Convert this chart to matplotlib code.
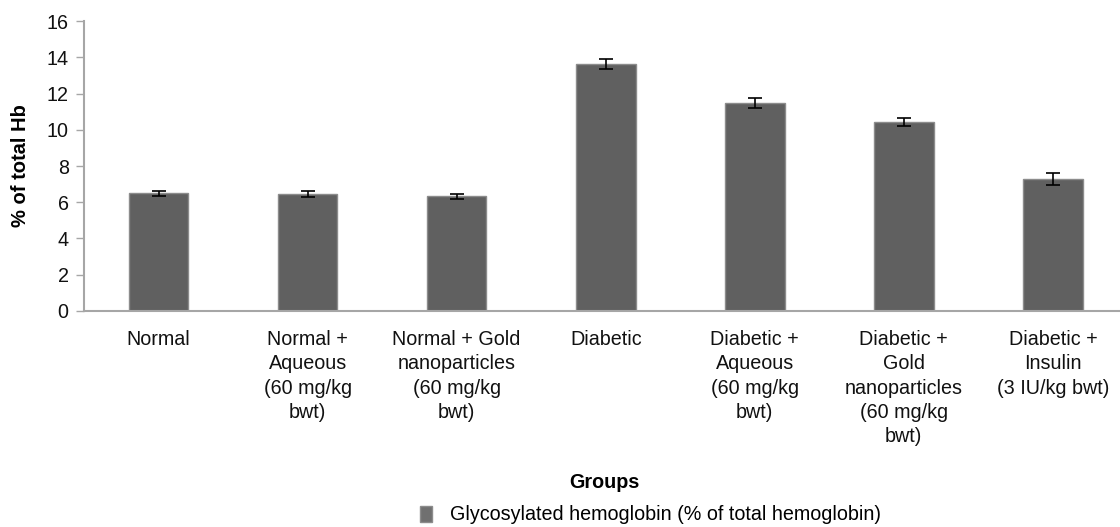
import matplotlib
matplotlib.use("Agg")
import matplotlib.pyplot as plt
from matplotlib.patches import Patch

plt.rcParams["font.family"] = ["Liberation Sans", "DejaVu Sans"]

groups = ["Normal",
          "Normal +\nAqueous\n(60 mg/kg\nbwt)",
          "Normal + Gold\nnanoparticles\n(60 mg/kg\nbwt)",
          "Diabetic",
          "Diabetic +\nAqueous\n(60 mg/kg\nbwt)",
          "Diabetic +\nGold\nnanoparticles\n(60 mg/kg\nbwt)",
          "Diabetic +\nInsulin\n(3 IU/kg bwt)"]
hba1c = [6.50, 6.45, 6.32, 13.62, 11.48, 10.43, 7.28]
hba1c_err = [0.14, 0.15, 0.14, 0.28, 0.30, 0.20, 0.33]
yticks = [0, 2, 4, 6, 8, 10, 12, 14, 16]
series_name = "Glycosylated hemoglobin (% of total hemoglobin)"

bar_col = "#606060"
axis_col = "#a6a6a6"
fs = 14.2

fig = plt.figure(figsize=(11.2, 5.27), dpi=100)
ax = fig.add_axes([0.075, 0.41, 0.925, 0.55])

x = list(range(len(groups)))
ax.bar(x, hba1c, width=0.4, color=bar_col, edgecolor="#8c8c8c", linewidth=1.0,
       yerr=hba1c_err, error_kw=dict(ecolor="black", elinewidth=1.2, capsize=5, capthick=1.2))

ax.set_xlim(-0.5, 6.45)
ax.set_ylim(0, 16)
ax.set_yticks(yticks)
ax.set_yticklabels([str(t) for t in yticks], fontsize=fs, color="#111111")
ax.set_xticks(x)
ax.set_xticklabels(groups, fontsize=fs, linespacing=1.34, va="top", color="#111111")
ax.tick_params(axis="x", length=0, pad=14)
ax.tick_params(axis="y", length=6, width=1, color=axis_col, pad=5)

for s in ["top", "right"]:
    ax.spines[s].set_visible(False)
for s in ["left", "bottom"]:
    ax.spines[s].set_color(axis_col)
    ax.spines[s].set_linewidth(1.5)

ax.set_ylabel("% of total Hb", fontsize=fs + 0.3, fontweight="bold")
ax.yaxis.set_label_coords(-0.052, 0.5)

fig.text(0.54, 1 - 482 / 527, "Groups", ha="center", va="center",
         fontsize=fs, fontweight="bold")

fig.legend(handles=[Patch(facecolor="#707070", edgecolor="#8c8c8c", label=series_name)],
           loc="center left", bbox_to_anchor=(420 / 1120, 1 - 515 / 527),
           frameon=False, fontsize=fs, handlelength=0.63, handleheight=0.85,
           handletextpad=0.9, borderpad=0, borderaxespad=0)

fig.savefig("out.png", dpi=100)
